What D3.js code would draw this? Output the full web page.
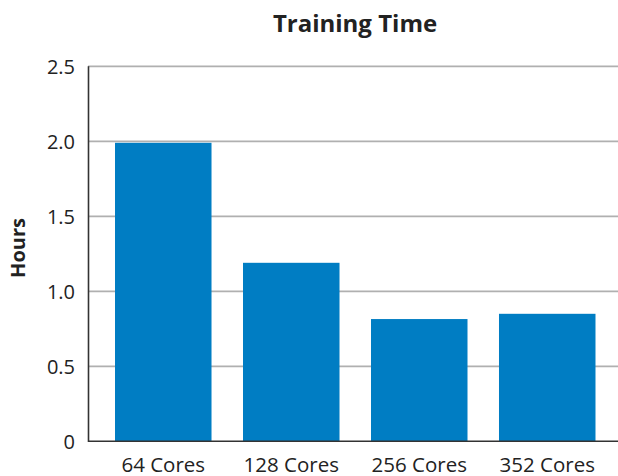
<!DOCTYPE html>
<html><head><meta charset="utf-8">
<script src="https://cdn.jsdelivr.net/npm/d3@7"></script>
<style>body{margin:0;background:#fff;} svg{display:block;}</style>
</head><body>
<script>
const categories = ["64 Cores", "128 Cores", "256 Cores", "352 Cores"];
const hours = [1.99, 1.19, 0.815, 0.85];
const yTicks = [0, 0.5, 1.0, 1.5, 2.0, 2.5];
const yTickLabels = ["0", "0.5", "1.0", "1.5", "2.0", "2.5"];
const title = "Training Time";
const yLabel = "Hours";

const W = 618, H = 476;
const font = "'Open Sans', 'Noto Sans', sans-serif";
const svg = d3.select("body").append("svg").attr("width", W).attr("height", H);

const x = d3.scaleBand().domain(categories).range([88, 622.5]).paddingInner(0.246).paddingOuter(0.211);
const y = d3.scaleLinear().domain([0, 2.5]).range([441.3, 66.3]);

// gridlines
svg.append("g").selectAll("line").data(yTicks.filter(d => d > 0)).join("line")
  .attr("x1", 88).attr("x2", W).attr("y1", d => y(d)).attr("y2", d => y(d))
  .attr("stroke", "#b0b0b0").attr("stroke-width", 1.8);

// bars
svg.append("g").selectAll("rect").data(hours).join("rect")
  .attr("x", (d, i) => x(categories[i])).attr("width", x.bandwidth())
  .attr("y", d => y(d)).attr("height", d => y(0) - y(d))
  .attr("fill", "#007dc3");

// axes lines
svg.append("line").attr("x1", 88.5).attr("x2", 88.5).attr("y1", y(2.5)).attr("y2", y(0) + 0.8)
  .attr("stroke", "#333").attr("stroke-width", 1.6);
svg.append("line").attr("x1", 88).attr("x2", W).attr("y1", y(0)).attr("y2", y(0))
  .attr("stroke", "#333").attr("stroke-width", 1.6);

// y tick labels
svg.append("g").selectAll("text").data(yTicks).join("text")
  .attr("x", 75).attr("y", d => y(d)).attr("dy", "0.36em")
  .attr("text-anchor", "end").attr("font-family", font).attr("font-size", 20)
  .attr("fill", "#222").text((d, i) => yTickLabels[i]);

// x labels
svg.append("g").selectAll("text").data(categories).join("text")
  .attr("x", d => x(d) + x.bandwidth() / 2).attr("y", 471.5)
  .attr("text-anchor", "middle").attr("font-family", font).attr("font-size", 20.5)
  .attr("fill", "#222").text(d => d);

// title
svg.append("text").attr("x", 355).attr("y", 32).attr("text-anchor", "middle")
  .attr("font-family", font).attr("font-weight", "bold").attr("font-size", 24)
  .attr("fill", "#222").text(title);

// y label
svg.append("text").attr("transform", "translate(25,248) rotate(-90)")
  .attr("text-anchor", "middle").attr("font-family", font).attr("font-weight", "bold")
  .attr("font-size", 20).attr("fill", "#222").text(yLabel);
</script>
</body></html>
